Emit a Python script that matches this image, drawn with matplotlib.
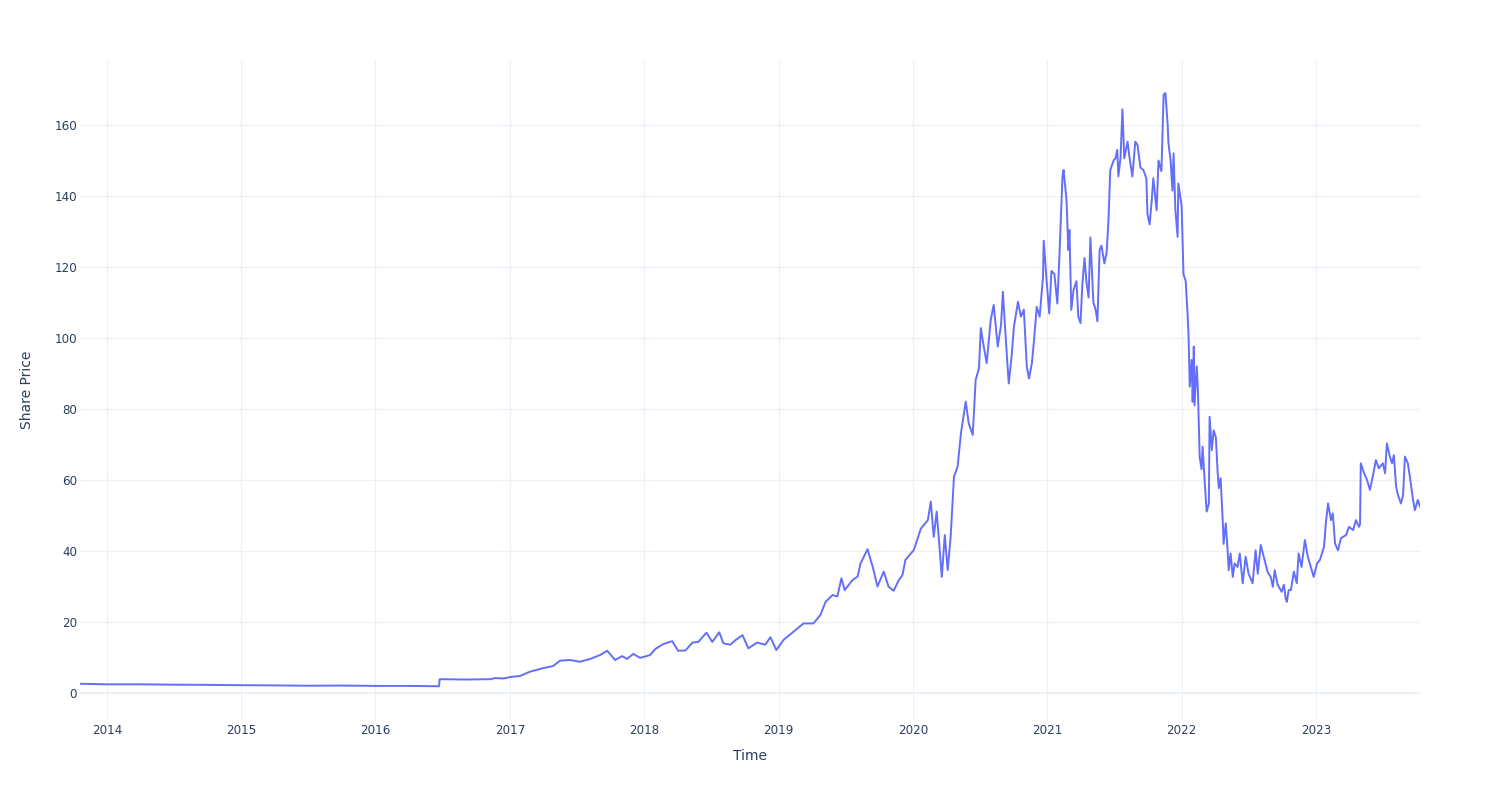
import matplotlib

matplotlib.use("Agg")

import matplotlib.dates as mdates
import matplotlib.pyplot as plt
import pandas as pd

# values (daily closes thinned out)
dates = [
    # 2013 - 2016
    "2013-10-20", "2013-12-01", "2014-01-01", "2014-04-01", "2014-07-01",
    "2014-10-01", "2015-01-01", "2015-04-01", "2015-07-01", "2015-10-01",
    "2016-01-01", "2016-04-01", "2016-06-22", "2016-06-24", "2016-09-01",
    "2016-11-10", "2016-11-20", "2016-12-15",
    # 2017
    "2017-01-01", "2017-01-28", "2017-02-24", "2017-04-01", "2017-04-28",
    "2017-05-17", "2017-06-13", "2017-07-10", "2017-08-07", "2017-09-03",
    "2017-09-22", "2017-10-14", "2017-11-02", "2017-11-15", "2017-12-02",
    "2017-12-21",
    # 2018
    "2018-01-17", "2018-01-31", "2018-02-22", "2018-03-18", "2018-04-03",
    "2018-04-23", "2018-05-12", "2018-05-28", "2018-06-19", "2018-07-05",
    "2018-07-24", "2018-08-04", "2018-08-23", "2018-09-06", "2018-09-25",
    "2018-10-11", "2018-11-04", "2018-11-26", "2018-12-10", "2018-12-26",
    # 2019
    "2019-01-15", "2019-02-11", "2019-03-10", "2019-04-06", "2019-04-25",
    "2019-05-09", "2019-05-28", "2019-06-10", "2019-06-21", "2019-06-30",
    "2019-07-21", "2019-08-04", "2019-08-12", "2019-08-31", "2019-09-14",
    "2019-09-27", "2019-10-14", "2019-10-27", "2019-11-10", "2019-11-24",
    "2019-12-04", "2019-12-12",
    # 2020
    "2020-01-04", "2020-01-23", "2020-02-11", "2020-02-19", "2020-02-27",
    "2020-03-06", "2020-03-20", "2020-03-28", "2020-04-05", "2020-04-13",
    "2020-04-22", "2020-05-02", "2020-05-11", "2020-05-24", "2020-06-01",
    "2020-06-12", "2020-06-20", "2020-06-29", "2020-07-04", "2020-07-12",
    "2020-07-20", "2020-07-31", "2020-08-08", "2020-08-19", "2020-08-28",
    "2020-09-02", "2020-09-13", "2020-09-18", "2020-09-26", "2020-10-02",
    "2020-10-13", "2020-10-21", "2020-10-29", "2020-11-06", "2020-11-12",
    "2020-11-20", "2020-11-25", "2020-12-03", "2020-12-11", "2020-12-20",
    "2020-12-22", "2020-12-30",
    # 2021
    "2021-01-06", "2021-01-12", "2021-01-20", "2021-01-28", "2021-02-03",
    "2021-02-11", "2021-02-14", "2021-02-22", "2021-02-27", "2021-03-02",
    "2021-03-07", "2021-03-13", "2021-03-21", "2021-03-26", "2021-04-01",
    "2021-04-06", "2021-04-12", "2021-04-17", "2021-04-23", "2021-04-28",
    "2021-05-06", "2021-05-12", "2021-05-17", "2021-05-23", "2021-05-28",
    "2021-06-05", "2021-06-11", "2021-06-16", "2021-06-21", "2021-06-30",
    "2021-07-05", "2021-07-10", "2021-07-13", "2021-07-19", "2021-07-24",
    "2021-07-29", "2021-08-07", "2021-08-12", "2021-08-20", "2021-08-28",
    "2021-09-03", "2021-09-11", "2021-09-19", "2021-09-27", "2021-09-30",
    "2021-10-06", "2021-10-11", "2021-10-16", "2021-10-25", "2021-10-30",
    "2021-11-07", "2021-11-13", "2021-11-18", "2021-11-24", "2021-11-26",
    "2021-12-02", "2021-12-07", "2021-12-10", "2021-12-15", "2021-12-21",
    "2021-12-23",
    # 2022
    "2022-01-01", "2022-01-06", "2022-01-12", "2022-01-17", "2022-01-20",
    "2022-01-23", "2022-01-28", "2022-01-31", "2022-02-03", "2022-02-05",
    "2022-02-11", "2022-02-14", "2022-02-19", "2022-02-24", "2022-02-27",
    "2022-03-05", "2022-03-10", "2022-03-16", "2022-03-18", "2022-03-24",
    "2022-03-29", "2022-04-04", "2022-04-09", "2022-04-12", "2022-04-17",
    "2022-04-23", "2022-04-25", "2022-05-01", "2022-05-06", "2022-05-09",
    "2022-05-14", "2022-05-20", "2022-05-25", "2022-06-02", "2022-06-08",
    "2022-06-16", "2022-06-24", "2022-07-02", "2022-07-13", "2022-07-21",
    "2022-07-27", "2022-08-04", "2022-08-12", "2022-08-23", "2022-08-31",
    "2022-09-06", "2022-09-11", "2022-09-19", "2022-09-30", "2022-10-06",
    "2022-10-11", "2022-10-14", "2022-10-19", "2022-10-25", "2022-11-02",
    "2022-11-10", "2022-11-15", "2022-11-23", "2022-12-02", "2022-12-10",
    "2022-12-18", "2022-12-26",
    # 2023
    "2023-01-04", "2023-01-12", "2023-01-23", "2023-01-28", "2023-02-03",
    "2023-02-11", "2023-02-16", "2023-02-22", "2023-03-02", "2023-03-10",
    "2023-03-24", "2023-04-01", "2023-04-12", "2023-04-20", "2023-04-28",
    "2023-05-01", "2023-05-03", "2023-05-12", "2023-05-20", "2023-05-28",
    "2023-06-08", "2023-06-13", "2023-06-21", "2023-07-02", "2023-07-08",
    "2023-07-13", "2023-07-21", "2023-07-27", "2023-08-01", "2023-08-07",
    "2023-08-12", "2023-08-20", "2023-08-26", "2023-08-31", "2023-09-08",
    "2023-09-14", "2023-09-22", "2023-09-27", "2023-10-05", "2023-10-11",
]

prices = [
    # 2013 - 2016
    2.6, 2.5, 2.45, 2.45, 2.35,
    2.3, 2.2, 2.15, 2.05, 2.1,
    2.0, 2.0, 1.9, 3.9, 3.8,
    3.9, 4.2, 4.1,
    # 2017
    4.5, 4.8, 6.0, 7.0, 7.6,
    9.1, 9.3, 8.8, 9.6, 10.7,
    11.9, 9.3, 10.4, 9.6, 11.0,
    9.9,
    # 2018
    10.7, 12.4, 13.8, 14.6, 11.9,
    12.0, 14.2, 14.4, 17.0, 14.4,
    17.1, 14.0, 13.6, 14.9, 16.3,
    12.6, 14.2, 13.6, 15.7, 12.1,
    # 2019
    15.0, 17.3, 19.6, 19.6, 22.0,
    25.7, 27.6, 27.2, 32.3, 29.0,
    31.8, 32.8, 36.5, 40.5, 35.6,
    30.0, 34.2, 30.0, 28.8, 31.8,
    33.2, 37.5,
    # 2020
    40.3, 46.3, 48.7, 53.9, 44.0,
    51.1, 32.7, 44.5, 34.6, 44.0,
    60.9, 63.8, 73.2, 82.1, 76.0,
    72.7, 88.2, 91.5, 102.8, 97.6,
    92.9, 105.1, 109.3, 97.6, 103.7,
    113.0, 94.7, 87.2, 95.1, 103.2,
    110.2, 106.0, 108.0, 91.9, 88.6,
    93.0, 98.6, 108.8, 106.0, 117.1,
    127.4, 116.0,
    # 2021
    106.9, 118.9, 118.0, 109.7, 123.9,
    145.5, 147.3, 138.9, 124.8, 130.4,
    107.9, 113.5, 116.0, 106.0, 104.2,
    115.0, 122.5, 116.0, 111.4, 128.3,
    110.0, 108.0, 104.7, 124.8, 126.0,
    121.0, 124.0, 133.0, 147.3, 150.0,
    150.6, 153.0, 145.5, 151.0, 164.4,
    150.6, 155.3, 151.0, 145.5, 155.3,
    154.4, 148.0, 147.3, 145.0, 135.0,
    132.0, 138.0, 145.0, 136.0, 150.0,
    147.0, 168.5, 169.0, 160.0, 155.0,
    150.0, 141.5, 152.0, 136.0, 128.5,
    143.5,
    # 2022
    137.1, 118.0, 116.0, 107.0, 100.0,
    86.3, 93.8, 82.0, 97.6, 81.0,
    92.0, 86.0, 66.6, 63.0, 69.4,
    59.0, 51.1, 53.4, 77.8, 68.4,
    74.0, 72.0, 61.9, 57.7, 60.5,
    47.8, 42.0, 47.8, 40.2, 34.6,
    39.3, 32.7, 36.5, 35.5, 39.3,
    30.9, 38.4, 33.6, 30.9, 40.2,
    33.6, 41.7, 38.5, 34.0, 32.7,
    29.9, 34.6, 30.5, 28.5, 30.5,
    26.5, 25.7, 29.0, 29.0, 34.2,
    30.9, 39.3, 35.5, 43.1, 38.4,
    35.5, 32.7,
    # 2023
    36.5, 37.5, 41.2, 47.8, 53.4,
    48.7, 50.6, 42.1, 40.2, 43.6,
    44.5, 46.8, 45.9, 48.7, 46.8,
    47.5, 64.7, 61.9, 60.0, 57.2,
    62.8, 65.6, 63.3, 64.7, 61.9,
    70.3, 66.6, 64.7, 67.0, 58.1,
    55.8, 53.4, 55.8, 66.6, 64.7,
    60.5, 54.4, 51.5, 54.4, 52.5,
]

y_ticks = [0, 20, 40, 60, 80, 100, 120, 140, 160]

LINE_COLOR = "#636EFA"
GRID_COLOR = "#EBF0F8"
TEXT_COLOR = "#2A3F5F"

df = pd.DataFrame({"date": pd.to_datetime(dates), "price": prices})

W, H = 1500, 800
fig = plt.figure(figsize=(W / 100, H / 100), dpi=100)
# plot area in pixels: x 80..1420, y 60..720
ax = fig.add_axes([80 / W, 80 / H, 1340 / W, 660 / H])

ax.plot(df["date"], df["price"], color=LINE_COLOR, linewidth=1.4, zorder=3)

ax.set_xlim(df["date"].iloc[0], df["date"].iloc[-1])
ax.set_ylim(-7.6, 178.3)

ax.xaxis.set_major_locator(mdates.YearLocator())
ax.xaxis.set_major_formatter(mdates.DateFormatter("%Y"))
ax.set_yticks(y_ticks)

ax.grid(True, color=GRID_COLOR, linewidth=0.75, zorder=0)
ax.axhline(0, color=GRID_COLOR, linewidth=1.5, zorder=1)
ax.set_axisbelow(True)
for spine in ax.spines.values():
    spine.set_visible(False)

ax.tick_params(axis="both", length=0, labelsize=8.6, labelcolor=TEXT_COLOR)
ax.tick_params(axis="x", pad=3)
ax.tick_params(axis="y", pad=2)

ax.set_xlabel("Time", fontsize=10, color=TEXT_COLOR, va="center")
ax.xaxis.set_label_coords(0.5, -36 / 660)
ax.set_ylabel("Share Price", fontsize=10, color=TEXT_COLOR, va="center", ha="center")
ax.yaxis.set_label_coords(-53 / 1340, 0.5)

fig.savefig("out.png", dpi=100)
